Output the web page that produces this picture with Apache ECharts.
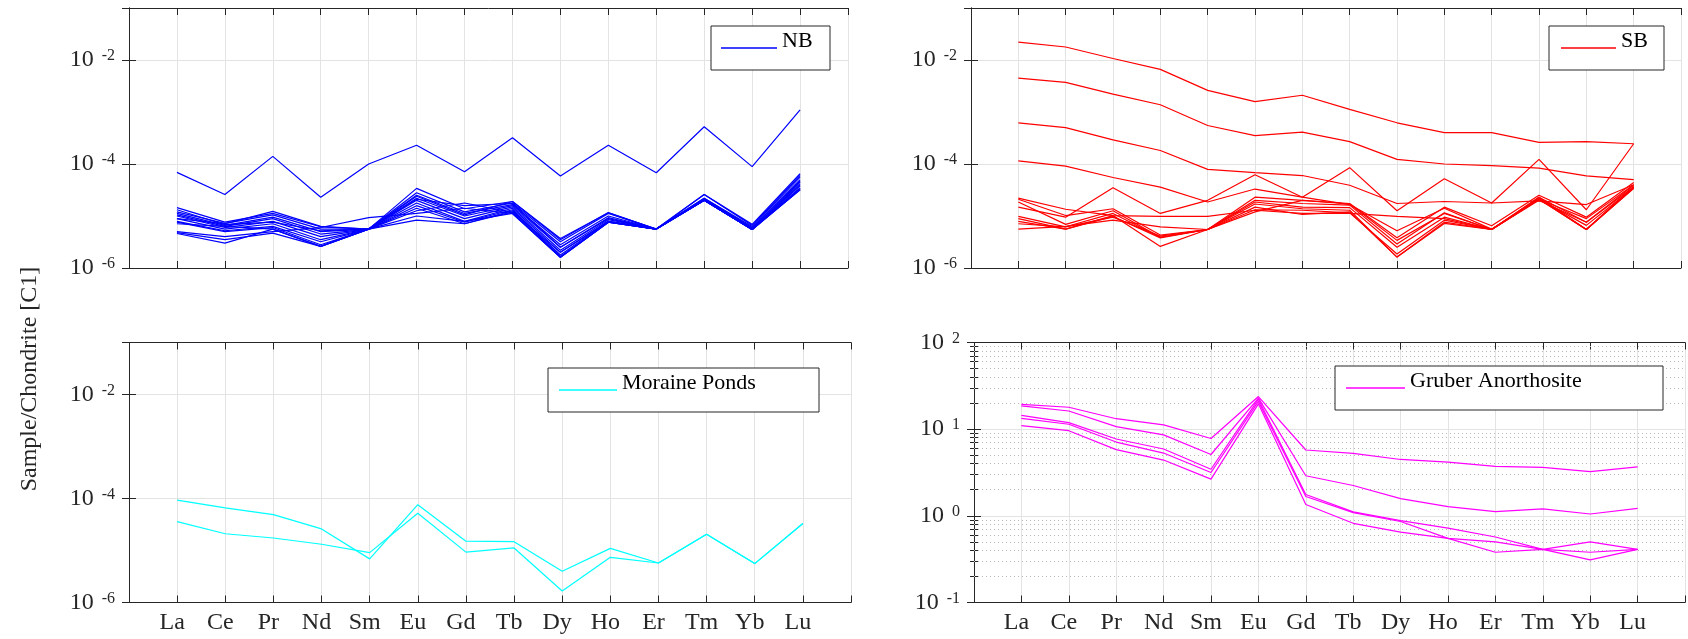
<!DOCTYPE html>
<html><head><meta charset="utf-8">
<script src="https://cdn.jsdelivr.net/npm/echarts@6/dist/echarts.min.js"></script>
<style>html,body{margin:0;padding:0;background:#fff}#c{width:1688px;height:639px}</style>
</head><body><div id="c"></div>
<script>
// ---------- data ----------
const elements = ['La','Ce','Pr','Nd','Sm','Eu','Gd','Tb','Dy','Ho','Er','Tm','Yb','Lu'];

const nbSamples = [
  [6.9e-5, 2.6e-5, 1.4e-4, 2.3e-5, 1.0e-4, 2.3e-4, 7.1e-5, 3.2e-4, 5.9e-5, 2.3e-4, 6.8e-5, 5.2e-4, 8.9e-5, 1.1e-3],
  [1.45e-5, 7.6e-6, 1.12e-5, 6.2e-6, 5.6e-6, 3.4e-5, 1.38e-5, 1.9e-5, 3.5e-6, 1.17e-5, 5.6e-6, 2.6e-5, 6.9e-6, 6.5e-5],
  [1.2e-5, 7.2e-6, 1.05e-5, 5.6e-6, 5.6e-6, 2.8e-5, 1.2e-5, 1.78e-5, 3.2e-6, 1.12e-5, 5.6e-6, 2.2e-5, 6.3e-6, 5.6e-5],
  [1.12e-5, 6.6e-6, 9.5e-6, 5.0e-6, 5.6e-6, 2.5e-5, 1.12e-5, 1.66e-5, 2.8e-6, 1.0e-5, 5.6e-6, 2.1e-5, 6.0e-6, 5.0e-5],
  [1.05e-5, 6.3e-6, 8.9e-6, 4.5e-6, 5.6e-6, 2.2e-5, 1.0e-5, 1.58e-5, 2.5e-6, 8.9e-6, 5.6e-6, 2.1e-5, 5.6e-6, 4.5e-5],
  [1.0e-5, 6.0e-6, 7.9e-6, 4.0e-6, 5.6e-6, 2.0e-5, 8.9e-6, 1.5e-5, 2.2e-6, 8.5e-6, 5.6e-6, 2.0e-5, 5.6e-6, 4.2e-5],
  [8.9e-6, 5.6e-6, 7.1e-6, 3.5e-6, 5.6e-6, 1.78e-5, 7.9e-6, 1.41e-5, 2.0e-6, 7.9e-6, 5.6e-6, 2.0e-5, 5.5e-6, 4.0e-5],
  [7.9e-6, 5.2e-6, 6.3e-6, 3.2e-6, 5.6e-6, 1.58e-5, 7.6e-6, 1.32e-5, 1.78e-6, 7.9e-6, 5.6e-6, 2.0e-5, 5.5e-6, 3.8e-5],
  [7.6e-6, 5.0e-6, 6.0e-6, 2.8e-6, 5.6e-6, 1.41e-5, 7.1e-6, 1.26e-5, 1.66e-6, 7.6e-6, 5.6e-6, 2.0e-5, 5.5e-6, 3.5e-5],
  [7.1e-6, 6.3e-6, 5.6e-6, 2.6e-6, 5.6e-6, 1.26e-5, 1.78e-5, 1.17e-5, 1.6e-6, 7.6e-6, 5.6e-6, 2.0e-5, 5.5e-6, 3.3e-5],
  [5.0e-6, 4.0e-6, 5.0e-6, 6.0e-6, 9.3e-6, 1.12e-5, 1.41e-5, 1.12e-5, 1.6e-6, 7.6e-6, 5.6e-6, 2.0e-5, 5.5e-6, 3.2e-5],
  [4.8e-6, 3.5e-6, 4.7e-6, 2.6e-6, 5.6e-6, 1.0e-5, 7.9e-6, 1.12e-5, 1.6e-6, 7.6e-6, 5.6e-6, 2.0e-5, 5.5e-6, 3.2e-5],
  [4.6e-6, 3.0e-6, 5.6e-6, 2.6e-6, 5.6e-6, 8.3e-6, 7.1e-6, 1.2e-5, 2.0e-6, 7.9e-6, 5.6e-6, 2.0e-5, 5.5e-6, 3.4e-5],
  [8.9e-6, 7.1e-6, 1.23e-5, 6.3e-6, 5.6e-6, 2.4e-5, 1.05e-5, 1.9e-5, 3.7e-6, 1.15e-5, 5.6e-6, 2.6e-5, 6.6e-6, 6.0e-5],
  [1.32e-5, 6.8e-6, 7.6e-6, 5.2e-6, 5.6e-6, 2.1e-5, 1.58e-5, 1.74e-5, 2.5e-6, 9.3e-6, 5.6e-6, 2.2e-5, 5.9e-6, 4.7e-5]
];

const sbSamples = [
  [2.2e-2, 1.78e-2, 1.07e-2, 6.6e-3, 2.6e-3, 1.58e-3, 2.1e-3, 1.12e-3, 6.2e-4, 4.0e-4, 4.0e-4, 2.6e-4, 2.7e-4, 2.45e-4],
  [4.5e-3, 3.7e-3, 2.2e-3, 1.38e-3, 5.5e-4, 3.5e-4, 4.1e-4, 2.7e-4, 1.23e-4, 1.0e-4, 9.3e-5, 8.3e-5, 5.9e-5, 5.0e-5],
  [6.2e-4, 5.0e-4, 2.9e-4, 1.82e-4, 7.9e-5, 6.8e-5, 6.0e-5, 3.9e-5, 1.74e-5, 1.9e-5, 1.78e-5, 1.95e-5, 1.66e-5, 4.0e-5],
  [1.15e-4, 9.1e-5, 5.5e-5, 3.6e-5, 1.86e-5, 3.3e-5, 2.3e-5, 1.66e-5, 5.2e-6, 1.41e-5, 5.6e-6, 2.1e-5, 8.9e-6, 4.0e-5],
  [1.48e-5, 9.5e-6, 3.5e-5, 1.12e-5, 2.0e-5, 6.2e-5, 2.3e-5, 8.5e-5, 1.26e-5, 5.2e-5, 1.78e-5, 1.23e-4, 1.32e-5, 2.45e-4],
  [2.2e-5, 1.35e-5, 1.02e-5, 9.8e-6, 9.8e-6, 1.29e-5, 1.12e-5, 1.12e-5, 9.8e-6, 8.9e-6, 5.5e-6, 2.0e-5, 7.6e-6, 3.6e-5],
  [2.1e-5, 1.02e-5, 1.38e-5, 4.3e-6, 5.5e-6, 2.3e-5, 2.0e-5, 1.74e-5, 3.8e-6, 1.48e-5, 6.5e-6, 2.5e-5, 9.5e-6, 4.4e-5],
  [1.86e-5, 6.9e-6, 1.26e-5, 3.9e-6, 5.5e-6, 2.0e-5, 1.74e-5, 1.62e-5, 2.9e-6, 1.15e-5, 5.5e-6, 2.3e-5, 7.6e-6, 3.9e-5],
  [9.8e-6, 6.2e-6, 1.12e-5, 3.9e-6, 5.5e-6, 1.86e-5, 1.48e-5, 1.45e-5, 2.5e-6, 9.5e-6, 5.5e-6, 2.2e-5, 5.5e-6, 3.6e-5],
  [8.9e-6, 5.6e-6, 1.02e-5, 2.6e-6, 5.5e-6, 1.7e-5, 1.38e-5, 1.29e-5, 1.62e-6, 7.2e-6, 5.5e-6, 2.1e-5, 5.5e-6, 3.4e-5],
  [7.9e-6, 5.6e-6, 9.8e-6, 3.8e-6, 5.5e-6, 1.48e-5, 1.07e-5, 1.2e-5, 1.62e-6, 7.6e-6, 5.5e-6, 2.1e-5, 5.5e-6, 3.4e-5],
  [7.1e-6, 6.2e-6, 9.5e-6, 4.1e-6, 5.5e-6, 1.32e-5, 1.29e-5, 1.15e-5, 1.86e-6, 8.3e-6, 5.5e-6, 2.1e-5, 6.6e-6, 3.5e-5],
  [5.6e-6, 6.3e-6, 8.3e-6, 6.2e-6, 5.5e-6, 1.2e-5, 2.0e-5, 1.7e-5, 3.4e-6, 1.12e-5, 5.5e-6, 2.3e-5, 5.5e-6, 3.7e-5]
];

const moraineSamples = [
  [9.3e-5, 6.6e-5, 4.9e-5, 2.6e-5, 6.9e-6, 7.6e-5, 1.51e-5, 1.48e-5, 4.0e-6, 1.1e-5, 5.75e-6, 2.05e-5, 5.6e-6, 3.3e-5],
  [3.6e-5, 2.1e-5, 1.74e-5, 1.32e-5, 9.1e-6, 5.2e-5, 9.3e-6, 1.12e-5, 1.66e-6, 7.4e-6, 5.75e-6, 2.05e-5, 5.6e-6, 3.3e-5]
];

const gruberSamples = [
  [19.3, 17.9, 13.2, 11.2, 7.8, 23.8, 5.75, 5.25, 4.47, 4.17, 3.72, 3.63, 3.24, 3.67],
  [18.6, 16.2, 10.7, 8.6, 5.1, 22.8, 2.9, 2.24, 1.58, 1.28, 1.12, 1.2, 1.05, 1.22],
  [14.4, 11.9, 7.7, 5.9, 3.45, 22.2, 1.76, 1.11, 0.88, 0.72, 0.57, 0.41, 0.50, 0.41],
  [13.3, 11.4, 7.1, 5.3, 3.16, 20.9, 1.67, 1.09, 0.86, 0.55, 0.50, 0.41, 0.38, 0.41],
  [11.0, 9.6, 5.8, 4.4, 2.65, 19.6, 1.35, 0.82, 0.65, 0.55, 0.38, 0.41, 0.31, 0.41]
];

const seriesNames = ['NB', 'SB', 'Moraine Ponds', 'Gruber Anorthosite'];
const yAxisTitle = 'Sample/Chondrite [C1]';

// ---------- layout / style ----------
const FONT = 'Liberation Serif';
const AX = '#262626';
const GRIDC = '#e3e3e3';

const panels = [
  { name: seriesNames[0], color: '#0000ff', data: nbSamples, grid: {left: 129, top: 8, width: 719, height: 260},
    ymin: 1e-6, ymax: 1e-1, step: 2, showX: false,
    lg: {left: 711, top: 26, iw: 56, pl: 10, tw: 48} },
  { name: seriesNames[1], color: '#ff0000', data: sbSamples, grid: {left: 971, top: 8, width: 710, height: 260},
    ymin: 1e-6, ymax: 1e-1, step: 2, showX: false,
    lg: {left: 1549, top: 26, iw: 55, pl: 12, tw: 43} },
  { name: seriesNames[2], color: '#00ffff', data: moraineSamples, grid: {left: 129, top: 342.5, width: 722, height: 260},
    ymin: 1e-6, ymax: 1e-1, step: 2, showX: true,
    lg: {left: 548, top: 368, iw: 58, pl: 11, tw: 197} },
  { name: seriesNames[3], color: '#ff00ff', data: gruberSamples, grid: {left: 974, top: 342.5, width: 713, height: 260},
    ymin: 1e-1, ymax: 1e2, step: 1, showX: true, minor: true,
    lg: {left: 1335, top: 366, iw: 59, pl: 11, tw: 253} }
];

const grids = [], xAxes = [], yAxes = [], series = [], legends = [];

panels.forEach((p, i) => {
  grids.push(Object.assign({containLabel: false}, p.grid));
  const xBase = {
    type: 'value', gridIndex: i, min: 0, max: elements.length + 1, interval: 1,
    axisLine: {show: true, onZero: false, lineStyle: {color: AX, width: 1}},
    axisTick: {show: true, inside: true, length: 7, lineStyle: {color: AX, width: 1}}
  };
  xAxes.push(Object.assign({}, xBase, {
    position: 'bottom',
    axisLabel: {
      show: p.showX, fontFamily: FONT, fontSize: 24, color: AX, margin: 8, padding: [0, 10, 0, 0],
      formatter: v => elements[v - 1] || ''
    },
    splitLine: {show: true, lineStyle: {color: GRIDC, width: 1}}
  }));
  xAxes.push(Object.assign({}, xBase, {position: 'top', axisLabel: {show: false}, splitLine: {show: false}}));

  const yBase = {
    type: 'log', logBase: 10, gridIndex: i, min: p.ymin, max: p.ymax, interval: p.step,
    axisLine: {show: true, lineStyle: {color: AX, width: 1}},
    axisTick: {show: true, inside: true, length: 7, lineStyle: {color: AX, width: 1}},
    minorTick: p.minor ? {show: true, splitNumber: 9, length: 4, lineStyle: {color: AX}} : {show: false}
  };
  yAxes.push(Object.assign({}, yBase, {
    position: 'left',
    axisLabel: {
      show: true, margin: 14, color: AX,
      formatter: v => {
        const e = Math.round(Math.log10(v));
        if (p.step === 2 && (e % 2 !== 0)) return '';
        return '{b|10}{s|' + e + '}';
      },
      rich: {
        b: {fontFamily: FONT, fontSize: 24, color: AX, lineHeight: 24, verticalAlign: 'bottom'},
        s: {fontFamily: FONT, fontSize: 16, color: AX, lineHeight: 16, verticalAlign: 'top', padding: [0, 0, 17, 8]}
      }
    },
    splitLine: {show: true, lineStyle: {color: GRIDC, width: 1}}
  }));
  yAxes.push(Object.assign({}, yBase, {position: 'right', axisLabel: {show: false}, splitLine: {show: false}}));

  p.data.forEach((row, k) => {
    const s = {
      type: 'line', name: p.name, xAxisIndex: 2 * i, yAxisIndex: 2 * i,
      data: row.map((v, j) => [j + 1, v]),
      symbol: 'none', silent: true, z: 3,
      lineStyle: {width: 1.2, color: p.color}, itemStyle: {color: p.color}
    };
    if (p.minor && k === 0) {
      const minorVals = [];
      [0.1, 1, 10].forEach(d => { for (let m = 2; m <= 9; m++) minorVals.push(m * d); });
      s.markLine = {
        silent: true, symbol: 'none', label: {show: false}, z: 1,
        lineStyle: {type: [1, 3], color: '#b8b8b8', width: 1},
        data: minorVals.map(v => ({yAxis: v}))
      };
    }
    series.push(s);
  });

  legends.push({
    data: [{name: p.name, icon: 'rect'}], left: p.lg.left, top: p.lg.top, orient: 'horizontal',
    itemWidth: p.lg.iw, itemHeight: 1.4, itemGap: 0, selectedMode: false,
    padding: [4, 0, 4, p.lg.pl],
    borderColor: AX, borderWidth: 1, backgroundColor: '#ffffff',
    itemStyle: {color: p.color, borderWidth: 0},
    formatter: n => n + '\n',
    textStyle: {fontFamily: FONT, fontSize: 22, color: '#000', width: p.lg.tw, lineHeight: 14}
  });
});

const chart = echarts.init(document.getElementById('c'), null, {renderer: 'canvas'});
chart.setOption({
  animation: false,
  backgroundColor: '#ffffff',
  grid: grids, xAxis: xAxes, yAxis: yAxes, series: series, legend: legends,
  graphic: [{
    type: 'text', x: 30, y: 379, rotation: Math.PI / 2,
    style: {text: yAxisTitle, fontFamily: FONT, fontSize: 24, fill: AX, align: 'center', verticalAlign: 'middle'}
  }]
});
</script>
</body></html>
